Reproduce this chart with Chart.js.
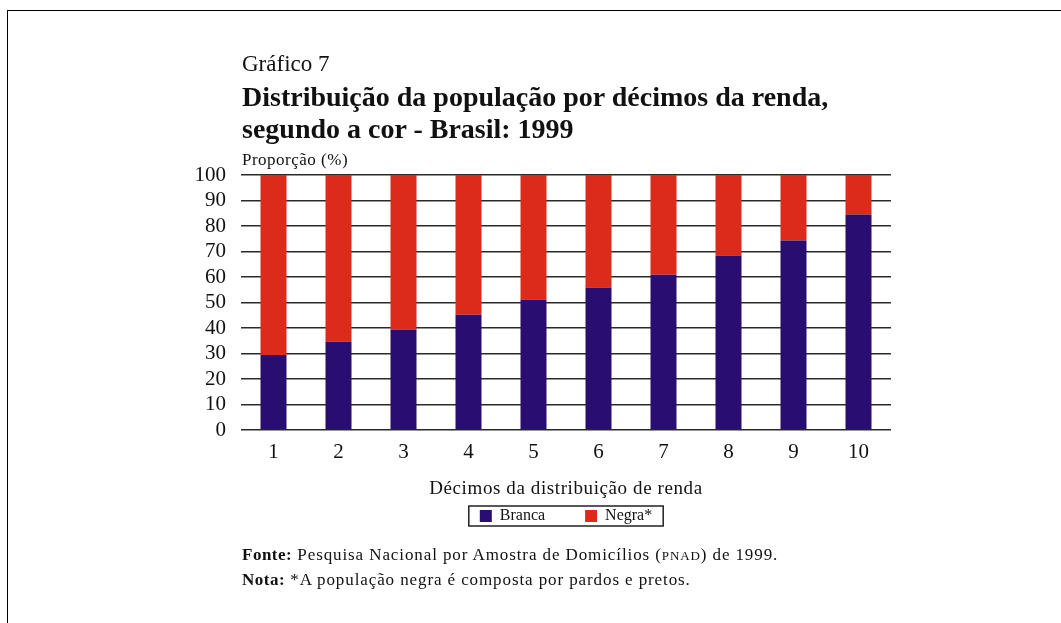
<!DOCTYPE html>
<html>
<head>
<meta charset="utf-8">
<script src="https://cdn.jsdelivr.net/npm/chart.js@4/dist/chart.umd.min.js"></script>
<style>
  html, body { margin: 0; padding: 0; background: #fff; }
  body { width: 1061px; height: 623px; position: relative; overflow: hidden; font-family: "Liberation Serif", serif; color: #111; }
  #frame { position: absolute; left: 7px; top: 10px; width: 1200px; height: 800px; border-top: 1px solid #000; border-left: 1px solid #000; }
  #wrap { position: absolute; left: 0; top: 0; width: 1061px; height: 623px; }
  .t { position: absolute; left: 242px; white-space: nowrap; line-height: 1; }
  #g7 { top: 52px; font-size: 23px; }
  #tt { top: 81px; font-size: 28px; font-weight: bold; line-height: 32px; }
  #yl { top: 151px; font-size: 17px; letter-spacing: 0.5px; }
  #fn { top: 543px; font-size: 17px; line-height: 24px; letter-spacing: 0.9px; }
  #fn b { font-weight: bold; letter-spacing: 0.5px; }
  .sc { font-size: 13px; }
  #xt { position: absolute; left: 241px; width: 650px; top: 478px; text-align: center; font-size: 19px; letter-spacing: 0.6px; line-height: 1; }
</style>
</head>
<body>
<div id="frame"></div>
<div id="wrap"><canvas id="c" width="1061" height="623"></canvas></div>
<div class="t" id="g7">Gráfico 7</div>
<div class="t" id="tt">Distribuição da população por décimos da renda,<br>segundo a cor - Brasil: 1999</div>
<div class="t" id="yl">Proporção (%)</div>
<div class="t" id="fn"><b>Fonte:</b> Pesquisa Nacional por Amostra de Domicílios (<span class="sc">PNAD</span>) de 1999.<br><b>Nota:</b> *A população negra é composta por pardos e pretos.</div>
<div id="xt">Décimos da distribuição de renda</div>
<script>
const categories = ['1', '2', '3', '4', '5', '6', '7', '8', '9', '10'];
const branca = [29.4, 34.6, 39.4, 45.2, 51.2, 55.9, 60.9, 68.4, 74.3, 84.5];
const negra = [70.6, 65.4, 60.6, 54.8, 48.8, 44.1, 39.1, 31.6, 25.7, 15.5];
const seriesNames = ['Branca', 'Negra*'];
const yTicks = [0, 10, 20, 30, 40, 50, 60, 70, 80, 90, 100];

const FONT = '"Liberation Serif", serif';

const legendBorder = {
  id: 'legendBorder',
  afterDraw(chart) {
    const lg = chart.legend;
    if (!lg || !lg.legendHitBoxes || !lg.legendHitBoxes.length) return;
    const hb = lg.legendHitBoxes;
    const first = hb[0], last = hb[hb.length - 1];
    const x0 = first.left - 11, x1 = last.left + last.width + 11;
    const y0 = first.top - 2, y1 = first.top + first.height + 2;
    const ctx = chart.ctx;
    ctx.save();
    ctx.strokeStyle = '#222';
    ctx.lineWidth = 1.5;
    ctx.strokeRect(x0, y0, x1 - x0, y1 - y0);
    ctx.restore();
  }
};

new Chart(document.getElementById('c'), {
  type: 'bar',
  data: {
    labels: categories,
    datasets: [
      { label: seriesNames[0], data: branca, backgroundColor: '#2A0D70', borderWidth: 0 },
      { label: seriesNames[1], data: negra, backgroundColor: '#DC2B1B', borderWidth: 0 }
    ]
  },
  options: {
    responsive: false,
    animation: false,
    layout: { padding: { top: 175, left: 186, right: 170, bottom: 89 } },
    datasets: { bar: { barPercentage: 0.4, categoryPercentage: 1.0 } },
    scales: {
      x: {
        stacked: true,
        grid: { display: false, drawTicks: false },
        border: { display: false },
        ticks: { padding: 10, color: '#111', font: { family: FONT, size: 21 } },
        afterFit(s) { s.height = 38; }
      },
      y: {
        stacked: true,
        min: 0, max: 100,
        afterBuildTicks(s) { s.ticks = yTicks.map(v => ({ value: v })); },
        grid: { color: '#2a2a2a', lineWidth: 1.5, drawTicks: false },
        border: { display: false },
        ticks: { autoSkip: false, padding: 15, color: '#111', font: { family: FONT, size: 21 } },
        afterFit(s) { s.width = 55; }
      }
    },
    plugins: {
      tooltip: { enabled: false },
      title: { display: false },
      legend: {
        position: 'bottom',
        fullSize: false,
        labels: {
          boxWidth: 12, boxHeight: 12, padding: 40,
          color: '#111',
          font: { family: FONT, size: 16 }
        }
      }
    }
  },
  plugins: [legendBorder]
});
</script>
</body>
</html>
